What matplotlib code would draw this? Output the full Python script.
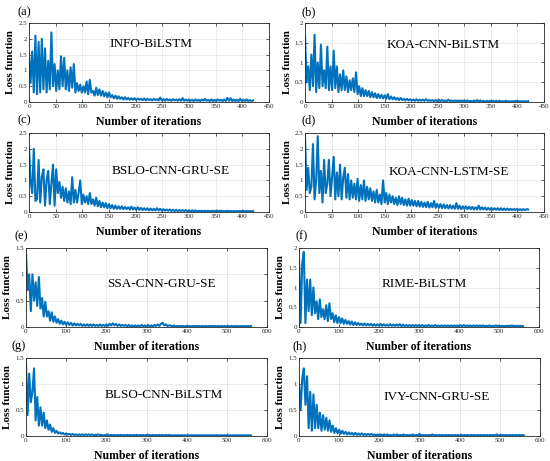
import numpy as np
import matplotlib
matplotlib.use("Agg")
import matplotlib.pyplot as plt
from matplotlib.ticker import FuncFormatter

plt.rcParams['font.family'] = ['Liberation Serif', 'DejaVu Serif']

# Số vòng lặp cuối của mỗi hàng
iters_top = 420
iters_bottom = 560

# Giá trị hàm mất mát
loss_a = [1.50, 0.60, 1.60, 0.30, 2.10, 0.25, 1.90, 0.30, 2.00, 0.40,
          1.70, 0.30, 1.30, 0.40, 2.20, 0.50, 1.20, 0.35, 1.00, 0.40,
          1.45, 0.50, 1.40, 0.40, 1.00, 0.35, 1.10, 0.45, 1.20, 0.30,
          0.60, 0.35, 0.55, 0.30, 0.50, 0.30, 0.65, 0.25, 0.70, 0.30,
          0.35, 0.20, 0.45, 0.22, 0.40, 0.20, 0.35, 0.18, 0.30, 0.15,
          0.30, 0.15, 0.22, 0.12, 0.20, 0.10, 0.18, 0.10, 0.15, 0.08,
          0.15, 0.08, 0.13, 0.07, 0.12, 0.07, 0.12, 0.06, 0.11, 0.07,
          0.10, 0.06, 0.11, 0.05, 0.10, 0.06, 0.09, 0.05, 0.10, 0.06,
          0.09, 0.05, 0.14, 0.05, 0.09, 0.04, 0.10, 0.05, 0.08, 0.04,
          0.09, 0.05, 0.08, 0.04, 0.09, 0.04, 0.12, 0.04, 0.08, 0.04,
          0.08, 0.04, 0.07, 0.03, 0.08, 0.04, 0.07, 0.03, 0.08, 0.04,
          0.10, 0.04, 0.07, 0.03, 0.08, 0.03, 0.07, 0.03, 0.08, 0.04,
          0.07, 0.03, 0.08, 0.03, 0.13, 0.04, 0.12, 0.03, 0.08, 0.03,
          0.07, 0.03, 0.10, 0.03, 0.07, 0.03, 0.08, 0.03, 0.06, 0.03,
          0.05]

loss_b = [1.70, 0.50, 0.90, 0.30, 1.20, 0.40, 1.70, 0.25, 1.00, 0.35,
          1.45, 0.40, 0.80, 0.35, 1.40, 0.30, 0.90, 0.30, 1.30, 0.35,
          0.90, 0.25, 0.70, 0.30, 0.80, 0.30, 0.65, 0.25, 0.55, 0.30,
          0.60, 0.25, 0.75, 0.20, 0.40, 0.15, 0.35, 0.15, 0.30, 0.15,
          0.28, 0.12, 0.25, 0.12, 0.22, 0.10, 0.20, 0.10, 0.18, 0.09,
          0.17, 0.08, 0.20, 0.07, 0.14, 0.07, 0.12, 0.06, 0.10, 0.05,
          0.10, 0.05, 0.08, 0.04, 0.08, 0.04, 0.07, 0.04, 0.06, 0.03,
          0.07, 0.03, 0.06, 0.03, 0.06, 0.03, 0.07, 0.03, 0.05, 0.03,
          0.05, 0.02, 0.05, 0.02, 0.06, 0.02, 0.05, 0.02, 0.04, 0.02,
          0.06, 0.02, 0.04, 0.02, 0.04, 0.02, 0.04, 0.02, 0.04, 0.02,
          0.04, 0.02, 0.04, 0.01, 0.03, 0.01, 0.04, 0.01, 0.05, 0.01,
          0.04, 0.01, 0.03, 0.01, 0.03, 0.01, 0.03, 0.01, 0.03, 0.01,
          0.03, 0.01, 0.03, 0.01, 0.02, 0.01, 0.03, 0.01, 0.02, 0.01,
          0.02, 0.01, 0.03, 0.01, 0.02, 0.01, 0.02, 0.01, 0.02, 0.01,
          0.02]

loss_c = [2.05, 1.00, 0.60, 2.00, 0.35, 0.40, 1.65, 0.30, 1.10, 1.35,
          0.20, 1.00, 1.30, 0.25, 0.90, 1.50, 0.20, 1.35, 0.60, 0.95,
          0.45, 0.80, 0.35, 0.75, 0.30, 0.65, 0.25, 1.10, 0.30, 0.70,
          0.30, 0.60, 1.00, 0.25, 0.55, 0.30, 0.50, 0.25, 0.60, 0.25,
          0.40, 0.20, 0.45, 0.18, 0.35, 0.15, 0.30, 0.15, 0.28, 0.12,
          0.25, 0.12, 0.22, 0.10, 0.20, 0.10, 0.18, 0.10, 0.18, 0.09,
          0.16, 0.09, 0.15, 0.08, 0.17, 0.08, 0.14, 0.07, 0.15, 0.07,
          0.13, 0.06, 0.12, 0.06, 0.12, 0.05, 0.11, 0.05, 0.10, 0.05,
          0.12, 0.05, 0.10, 0.04, 0.09, 0.04, 0.08, 0.04, 0.08, 0.03,
          0.07, 0.03, 0.07, 0.03, 0.06, 0.03, 0.06, 0.03, 0.06, 0.02,
          0.05, 0.02, 0.05, 0.02, 0.05, 0.02, 0.04, 0.02, 0.04, 0.02,
          0.04, 0.02, 0.04, 0.02, 0.04, 0.02, 0.04, 0.02, 0.04, 0.02,
          0.04, 0.02, 0.03, 0.02, 0.04, 0.02, 0.03, 0.02, 0.03, 0.02,
          0.03, 0.02, 0.03, 0.02, 0.03, 0.02, 0.03, 0.02, 0.03, 0.02,
          0.03]

loss_d = [2.40, 0.70, 1.40, 0.60, 0.80, 2.15, 0.40, 1.00, 2.40, 0.60,
          1.30, 0.30, 1.65, 0.60, 0.90, 1.65, 0.50, 1.10, 1.75, 0.40,
          1.25, 0.50, 1.50, 0.40, 1.10, 1.40, 0.45, 1.20, 0.40, 1.00,
          0.45, 0.90, 0.40, 1.05, 0.35, 0.85, 0.40, 1.00, 0.35, 0.80,
          0.40, 0.75, 0.35, 0.65, 0.30, 0.70, 0.30, 0.55, 0.25, 1.00,
          0.30, 0.60, 0.25, 0.55, 0.30, 0.50, 0.25, 0.45, 0.22, 0.50,
          0.25, 0.45, 0.22, 0.40, 0.20, 0.42, 0.20, 0.38, 0.20, 0.35,
          0.18, 0.35, 0.17, 0.32, 0.16, 0.30, 0.15, 0.32, 0.14, 0.28,
          0.15, 0.35, 0.13, 0.26, 0.13, 0.25, 0.12, 0.24, 0.12, 0.22,
          0.11, 0.22, 0.11, 0.20, 0.10, 0.28, 0.10, 0.20, 0.09, 0.18,
          0.10, 0.18, 0.09, 0.17, 0.09, 0.16, 0.08, 0.15, 0.08, 0.20,
          0.08, 0.15, 0.08, 0.14, 0.07, 0.13, 0.07, 0.13, 0.07, 0.12,
          0.07, 0.12, 0.06, 0.12, 0.06, 0.11, 0.06, 0.11, 0.06, 0.10,
          0.06, 0.10, 0.06, 0.10, 0.06, 0.09, 0.06, 0.09, 0.06, 0.09,
          0.08]

loss_e = [1.40, 0.70, 1.00, 0.30, 1.00, 0.50, 0.85, 0.40, 0.95, 0.35,
          0.55, 0.20, 0.48, 0.20, 0.30, 0.12, 0.28, 0.10, 0.20, 0.08,
          0.15, 0.06, 0.12, 0.05, 0.10, 0.04, 0.09, 0.04, 0.08, 0.03,
          0.07, 0.03, 0.06, 0.03, 0.06, 0.02, 0.05, 0.02, 0.05, 0.02,
          0.05, 0.02, 0.05, 0.02, 0.04, 0.02, 0.05, 0.02, 0.04, 0.02,
          0.05, 0.02, 0.06, 0.03, 0.07, 0.03, 0.06, 0.02, 0.05, 0.02,
          0.04, 0.02, 0.04, 0.01, 0.04, 0.01, 0.03, 0.01, 0.03, 0.01,
          0.03, 0.01, 0.04, 0.01, 0.03, 0.01, 0.04, 0.01, 0.03, 0.01,
          0.04, 0.02, 0.05, 0.02, 0.06, 0.08, 0.03, 0.05, 0.02, 0.03,
          0.03, 0.01, 0.03, 0.01, 0.02, 0.01, 0.02, 0.01, 0.02, 0.01,
          0.02, 0.01, 0.02, 0.01, 0.02, 0.01, 0.02, 0.01, 0.02, 0.01,
          0.02, 0.01, 0.02, 0.01, 0.02, 0.01, 0.02, 0.01, 0.02, 0.01,
          0.02, 0.01, 0.02, 0.01, 0.02, 0.01, 0.02, 0.01, 0.02, 0.01,
          0.02, 0.01, 0.02, 0.01, 0.02, 0.01, 0.02, 0.01, 0.02, 0.01,
          0.02]

loss_f = [1.75, 0.10, 1.60, 1.90, 0.10, 1.20, 0.40, 1.20, 0.30, 1.00,
          0.35, 0.65, 0.20, 0.70, 0.25, 0.45, 0.20, 0.55, 0.15, 0.60,
          0.20, 0.35, 0.12, 0.30, 0.10, 0.25, 0.10, 0.22, 0.08, 0.18,
          0.08, 0.15, 0.06, 0.14, 0.05, 0.12, 0.05, 0.10, 0.05, 0.09,
          0.04, 0.09, 0.04, 0.08, 0.04, 0.08, 0.03, 0.07, 0.03, 0.07,
          0.03, 0.08, 0.03, 0.07, 0.03, 0.06, 0.03, 0.07, 0.03, 0.06,
          0.03, 0.06, 0.03, 0.07, 0.02, 0.06, 0.02, 0.05, 0.02, 0.05,
          0.02, 0.05, 0.02, 0.05, 0.02, 0.05, 0.02, 0.05, 0.02, 0.04,
          0.02, 0.05, 0.02, 0.04, 0.02, 0.05, 0.02, 0.04, 0.02, 0.04,
          0.02, 0.04, 0.02, 0.04, 0.02, 0.04, 0.02, 0.04, 0.02, 0.04,
          0.02, 0.04, 0.02, 0.05, 0.02, 0.04, 0.02, 0.04, 0.02, 0.04,
          0.02, 0.04, 0.02, 0.04, 0.02, 0.04, 0.02, 0.03, 0.02, 0.04,
          0.02, 0.03, 0.02, 0.04, 0.02, 0.03, 0.02, 0.03, 0.02, 0.03,
          0.02, 0.03, 0.02, 0.04, 0.02, 0.03, 0.02, 0.03, 0.02, 0.03,
          0.02]

loss_g = [1.40, 0.40, 1.20, 0.65, 0.85, 1.30, 0.30, 0.75, 0.20, 0.55,
          0.20, 0.45, 0.15, 0.30, 0.12, 0.22, 0.08, 0.15, 0.06, 0.10,
          0.05, 0.07, 0.04, 0.06, 0.03, 0.05, 0.03, 0.04, 0.02, 0.04,
          0.02, 0.03, 0.02, 0.03, 0.02, 0.03, 0.02, 0.03, 0.02, 0.03,
          0.02, 0.03, 0.02, 0.02, 0.02, 0.03, 0.02, 0.02, 0.01, 0.02,
          0.01, 0.03, 0.01, 0.02, 0.01, 0.02, 0.01, 0.02, 0.01, 0.02,
          0.01, 0.02, 0.01, 0.02, 0.01, 0.02, 0.01, 0.02, 0.01, 0.02,
          0.01, 0.02, 0.01, 0.02, 0.01, 0.02, 0.01, 0.02, 0.01, 0.02,
          0.01, 0.02, 0.01, 0.02, 0.01, 0.02, 0.01, 0.02, 0.01, 0.02,
          0.01, 0.015, 0.01, 0.015, 0.01, 0.015, 0.01, 0.015, 0.01, 0.015,
          0.01, 0.015, 0.01, 0.015, 0.01, 0.015, 0.01, 0.015, 0.01, 0.015,
          0.01, 0.015, 0.01, 0.015, 0.01, 0.015, 0.01, 0.015, 0.01, 0.015,
          0.01, 0.015, 0.01, 0.015, 0.01, 0.015, 0.01, 0.015, 0.01, 0.015,
          0.01, 0.015, 0.01, 0.015, 0.01, 0.015, 0.01, 0.015, 0.01, 0.015,
          0.01]

loss_h = [1.00, 0.50, 1.10, 1.30, 0.60, 1.15, 0.15, 0.85, 0.10, 0.80,
          0.15, 0.60, 0.15, 0.45, 0.10, 0.40, 0.12, 0.35, 0.10, 0.30,
          0.08, 0.20, 0.06, 0.15, 0.05, 0.12, 0.04, 0.10, 0.04, 0.08,
          0.03, 0.07, 0.03, 0.06, 0.02, 0.06, 0.02, 0.05, 0.02, 0.05,
          0.02, 0.04, 0.02, 0.04, 0.02, 0.04, 0.02, 0.03, 0.01, 0.03,
          0.01, 0.03, 0.01, 0.03, 0.01, 0.03, 0.01, 0.02, 0.01, 0.03,
          0.01, 0.03, 0.01, 0.02, 0.01, 0.03, 0.01, 0.02, 0.01, 0.02,
          0.01, 0.03, 0.01, 0.02, 0.01, 0.04, 0.01, 0.02, 0.01, 0.02,
          0.01, 0.02, 0.01, 0.03, 0.01, 0.02, 0.01, 0.02, 0.01, 0.02,
          0.01, 0.02, 0.01, 0.02, 0.01, 0.02, 0.01, 0.02, 0.01, 0.02,
          0.01, 0.02, 0.01, 0.02, 0.01, 0.02, 0.01, 0.02, 0.01, 0.02,
          0.01, 0.02, 0.01, 0.02, 0.01, 0.02, 0.01, 0.02, 0.01, 0.02,
          0.01, 0.02, 0.01, 0.03, 0.01, 0.02, 0.01, 0.02, 0.01, 0.02,
          0.01, 0.02, 0.01, 0.02, 0.01, 0.02, 0.01, 0.02, 0.01, 0.02,
          0.01]

model_names = ["INFO-BiLSTM", "KOA-CNN-BiLSTM", "BSLO-CNN-GRU-SE", "KOA-CNN-LSTM-SE",
               "SSA-CNN-GRU-SE", "RIME-BiLSTM", "BLSO-CNN-BiLSTM", "IVY-CNN-GRU-SE"]
panel_letters = ["(a)", "(b)", "(c)", "(d)", "(e)", "(f)", "(g)", "(h)"]
all_loss = [loss_a, loss_b, loss_c, loss_d, loss_e, loss_f, loss_g, loss_h]
y_max = [2.5, 2, 2.5, 2.5, 1.5, 2, 1.5, 1.5]

W, H = 550, 461
BLUE = "#0072BD"

# Vị trí các trục (pixel): trái, trên, phải, dưới
boxes = [(29, 23, 269, 102), (305, 23, 544, 102),
         (29, 133, 269, 212), (305, 133, 544, 212),
         (26, 248, 267, 327), (299, 248, 539, 327),
         (26, 358, 267, 436), (299, 358, 540, 436)]
# Vị trí tên mô hình trong trục
name_pos = [(0.51, 0.73), (0.58, 0.72), (0.59, 0.52), (0.60, 0.51),
            (0.56, 0.54), (0.52, 0.54), (0.57, 0.53), (0.57, 0.50)]
# Vị trí nhãn (a)...(h) (pixel)
letter_pos = [(24, 12), (309, 12), (24, 120), (309, 120),
              (21, 236), (302, 236), (19, 346), (300, 346)]


def ve_mot_o(fig, i):
    l, t, r, b = boxes[i]
    ax = fig.add_axes([l / W, 1 - b / H, (r - l) / W, (b - t) / H])
    n_iter = iters_top if i < 4 else iters_bottom
    y = np.array(all_loss[i])
    x = np.linspace(0, n_iter, len(y))
    ax.plot(x, y, color=BLUE, lw=1.5)

    if i < 4:
        ax.set_xlim(0, 450)
        ax.set_xticks(np.arange(0, 451, 50))
    else:
        ax.set_xlim(0, 600)
        ax.set_xticks(np.arange(0, 601, 100))
    ax.set_ylim(0, y_max[i])
    ax.set_yticks(np.arange(0, y_max[i] + 0.01, 0.5))
    ax.yaxis.set_major_formatter(FuncFormatter(lambda v, p: "%g" % v))

    ax.grid(True, color="#e3e3e3", lw=0.5)
    ax.set_axisbelow(True)
    for s in ax.spines.values():
        s.set_linewidth(0.6)
        s.set_color("#262626")
    ax.tick_params(direction="in", length=2, width=0.5, labelsize=5,
                   pad=1.5, top=True, right=True, colors="#262626")

    ax.set_xlabel("Number of iterations", fontsize=8.5, fontweight="bold")
    ax.xaxis.set_label_coords(0.5, -13.5 / (b - t))
    ax.set_ylabel("Loss function", fontsize=8, fontweight="bold")
    ax.yaxis.set_label_coords(-18 / (r - l), 0.5)
    ax.yaxis.label.set_va("center")

    nx, ny = name_pos[i]
    ax.text(nx, ny, model_names[i], transform=ax.transAxes, fontsize=9.5,
            ha="center", va="center")

    lx, ly = letter_pos[i]
    fig.text(lx / W, 1 - ly / H, panel_letters[i], fontsize=9,
             ha="center", va="center")


def show_loss():
    fig = plt.figure(figsize=(W / 100, H / 100), dpi=100)
    for i in range(8):
        ve_mot_o(fig, i)
    fig.savefig("out.png", dpi=100)


if __name__ == '__main__':
    show_loss()
